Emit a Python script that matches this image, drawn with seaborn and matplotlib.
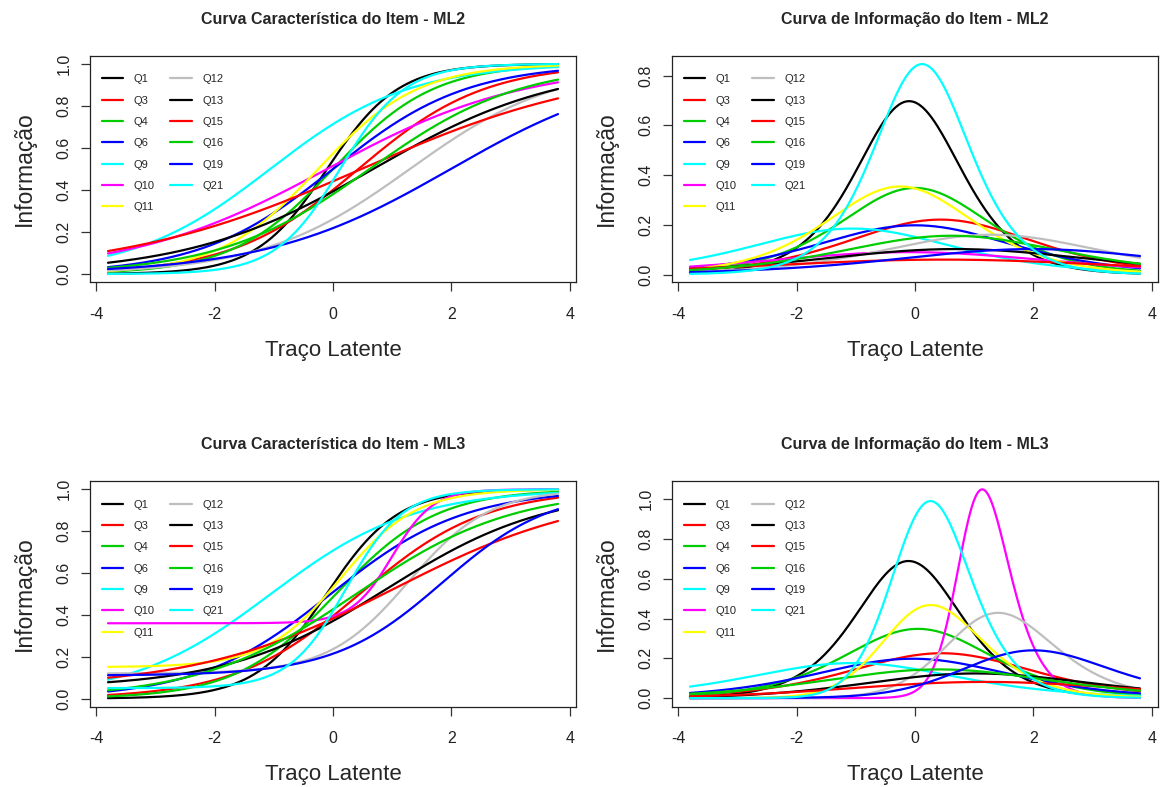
import numpy as np
import pandas as pd
import matplotlib
matplotlib.use("Agg")
import matplotlib.pyplot as plt
from matplotlib.lines import Line2D
from matplotlib.ticker import FormatStrFormatter
import seaborn as sns

# items shown in the legend (order of the legend, column-wise)
items = ["Q1", "Q3", "Q4", "Q6", "Q9", "Q10", "Q11", "Q12", "Q13", "Q15", "Q16", "Q19", "Q21"]

# ML2 item parameters (discrimination, difficulty)
a_ml2 = [1.67, 0.94, 1.18, 0.89, 0.86, 0.60, 1.19, 0.80, 0.64, 0.49, 0.79, 0.64, 1.84]
b_ml2 = [-0.10, 0.43, 0.00, 0.00, -1.06, -0.10, -0.25, 1.30, 0.68, 0.48, 0.62, 1.99, 0.12]

# ML3 item parameters (discrimination, difficulty, guessing)
a_ml3 = [1.66, 0.95, 1.18, 0.89, 0.84, 2.91, 1.58, 1.47, 0.74, 0.60, 0.76, 1.09, 2.09]
b_ml3 = [-0.11, 0.45, 0.05, -0.04, -1.05, 1.00, 0.13, 1.28, 0.91, 1.03, 0.39, 1.85, 0.22]
c_ml3 = [0.00, 0.00, 0.00, 0.00, 0.00, 0.36, 0.15, 0.12, 0.05, 0.05, 0.00, 0.11, 0.05]

# latent trait range of the plots
theta_min, theta_max = -3.8, 3.8

# R default palette, recycled over the items
r_palette = ["#000000", "#FF0000", "#00CD00", "#0000FF", "#00FFFF", "#FF00FF", "#FFFF00", "#BEBEBE"]
palette = {it: r_palette[i % len(r_palette)] for i, it in enumerate(items)}


def item_curves(a, b, c):
    """ probability and information of each item over the latent trait """
    theta = np.linspace(theta_min, theta_max, 301)
    rows = []
    for it, ai, bi, ci in zip(items, a, b, c):
        p = ci + (1 - ci) / (1 + np.exp(-ai * (theta - bi)))
        info = ai ** 2 * (1 - p) / p * ((p - ci) / (1 - ci)) ** 2
        rows.append(pd.DataFrame({"theta": theta, "item": it, "prob": p, "info": info}))
    return pd.concat(rows, ignore_index=True)


df_ml2 = item_curves(a_ml2, b_ml2, [0.0] * len(items))
df_ml3 = item_curves(a_ml3, b_ml3, c_ml3)

sns.set_theme(style="white")
plt.rcParams["font.family"] = ["Liberation Sans", "DejaVu Sans"]
plt.rcParams["axes.unicode_minus"] = False

W, H = 1165, 787
fig = plt.figure(figsize=(W / 100, H / 100), dpi=100)

# panel boxes in pixels: left, top, width, height
boxes = [(90, 55.7, 486, 226.6), (672, 55.7, 486, 226.6),
         (90, 481, 486, 225.5), (672, 481, 486, 225.5)]
panels = [(df_ml2, "prob", "Curva Característica do Item - ML2"),
          (df_ml2, "info", "Curva de Informação do Item - ML2"),
          (df_ml3, "prob", "Curva Característica do Item - ML3"),
          (df_ml3, "info", "Curva de Informação do Item - ML3")]

handles = [Line2D([], [], color=palette[it], lw=1.6) for it in items]

for (l, t, w, h), (df, col, title) in zip(boxes, panels):
    ax = fig.add_axes([l / W, 1 - (t + h) / H, w / W, h / H])
    sns.lineplot(data=df, x="theta", y=col, hue="item", hue_order=items, palette=palette,
                 estimator=None, sort=False, lw=1.6, legend=False, ax=ax)

    lo, hi = df[col].min(), df[col].max()
    pad = 0.04 * (hi - lo)
    ax.set_ylim(lo - pad, hi + pad)
    xpad = 0.04 * (theta_max - theta_min)
    ax.set_xlim(theta_min - xpad, theta_max + xpad)
    ax.set_xticks([-4, -2, 0, 2, 4])
    ax.set_yticks(np.arange(0, hi + pad, 0.2))
    ax.yaxis.set_major_formatter(FormatStrFormatter("%.1f"))

    for sp in ax.spines.values():
        sp.set_visible(True)
        sp.set_color("#222222")
        sp.set_linewidth(0.9)
    ax.tick_params(axis="both", direction="out", length=6.5, width=0.9, color="#333333",
                   labelsize=11.5, labelcolor="#222222", bottom=True, left=True)
    ax.tick_params(axis="x", pad=11)
    ax.tick_params(axis="y", pad=7, labelrotation=90)
    for lab in ax.get_yticklabels():
        lab.set_va("center")

    ax.set_title(title, fontsize=11.5, fontweight="bold", pad=23)
    ax.set_xlabel("Traço Latente", fontsize=16, labelpad=13)
    ax.set_ylabel("Informação", fontsize=16.5, labelpad=15)

    ax.legend(handles, items, ncol=2, loc="upper left", frameon=False, fontsize=8,
              handlelength=1.9, handletextpad=0.95, columnspacing=1.45, labelspacing=1.02,
              borderpad=0, borderaxespad=0, bbox_to_anchor=(11.7 / w, 1 - 18.5 / h))

fig.savefig("out.png", dpi=100, facecolor="white")
